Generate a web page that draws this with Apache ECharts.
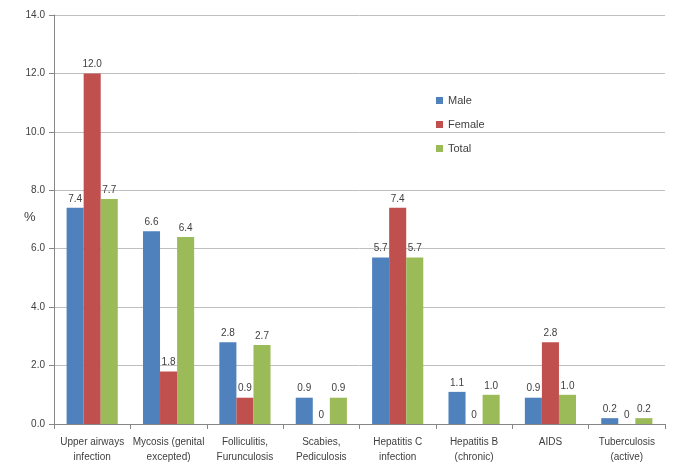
<!DOCTYPE html>
<html><head><meta charset="utf-8">
<script src="https://cdn.jsdelivr.net/npm/echarts@6/dist/echarts.min.js"></script>
<style>html,body{margin:0;padding:0;background:#fff}#c{width:685px;height:474px}</style>
</head><body><div id="c"></div>
<script>
var categories = ['Upper airways\ninfection','Mycosis (genital\nexcepted)','Folliculitis,\nFurunculosis','Scabies,\nPediculosis','Hepatitis C\ninfection','Hepatitis B\n(chronic)','AIDS','Tuberculosis\n(active)'];
var male = [7.4, 6.6, 2.8, 0.9, 5.7, 1.1, 0.9, 0.2];
var female = [12.0, 1.8, 0.9, 0, 7.4, 0, 2.8, 0];
var total = [7.7, 6.4, 2.7, 0.9, 5.7, 1.0, 1.0, 0.2];
var seriesNames = ['Male','Female','Total'];
var yAxisTitle = '%';
var colors = ['#4F81BD','#C0504D','#9BBB59'];
var font = 'Liberation Sans';
var chart = echarts.init(document.getElementById('c'));
function mk(name, data, color){
  return {name:name,type:'bar',data:data,barGap:'0%',barCategoryGap:'33%',
    itemStyle:{color:color},
    label:{show:true,position:'top',distance:4,color:'#404040',fontFamily:font,fontSize:10,
      formatter:function(p){return p.value===0?'0':p.value.toFixed(1);}}};
}
chart.setOption({
  animation:false,
  textStyle:{fontFamily:font},
  grid:{left:54,right:20,top:15,bottom:50},
  graphic:[{type:'text',left:24,top:211,style:{text:yAxisTitle,fontSize:13,fill:'#404040',fontFamily:font}}],
  legend:{orient:'vertical',left:431,top:90,itemWidth:7,itemHeight:7,itemGap:13,
    icon:'rect',data:seriesNames,textStyle:{fontFamily:font,fontSize:11,color:'#404040'}},
  xAxis:{type:'category',data:categories,
    axisLine:{lineStyle:{color:'#868686'}},
    axisTick:{show:true,length:5,lineStyle:{color:'#868686'}},
    axisLabel:{color:'#404040',fontSize:10,fontFamily:font,margin:11,lineHeight:15,interval:0}},
  yAxis:{type:'value',min:0,max:14,interval:2,
    axisLine:{show:true,lineStyle:{color:'#868686'}},
    axisTick:{show:true,length:5,lineStyle:{color:'#868686'}},
    splitLine:{lineStyle:{color:'#BFBFBF'}},
    axisLabel:{color:'#404040',fontSize:10,fontFamily:font,margin:9,formatter:function(v){return v.toFixed(1);}}},
  series:[mk(seriesNames[0],male,colors[0]),mk(seriesNames[1],female,colors[1]),mk(seriesNames[2],total,colors[2])]
});
</script></body></html>
